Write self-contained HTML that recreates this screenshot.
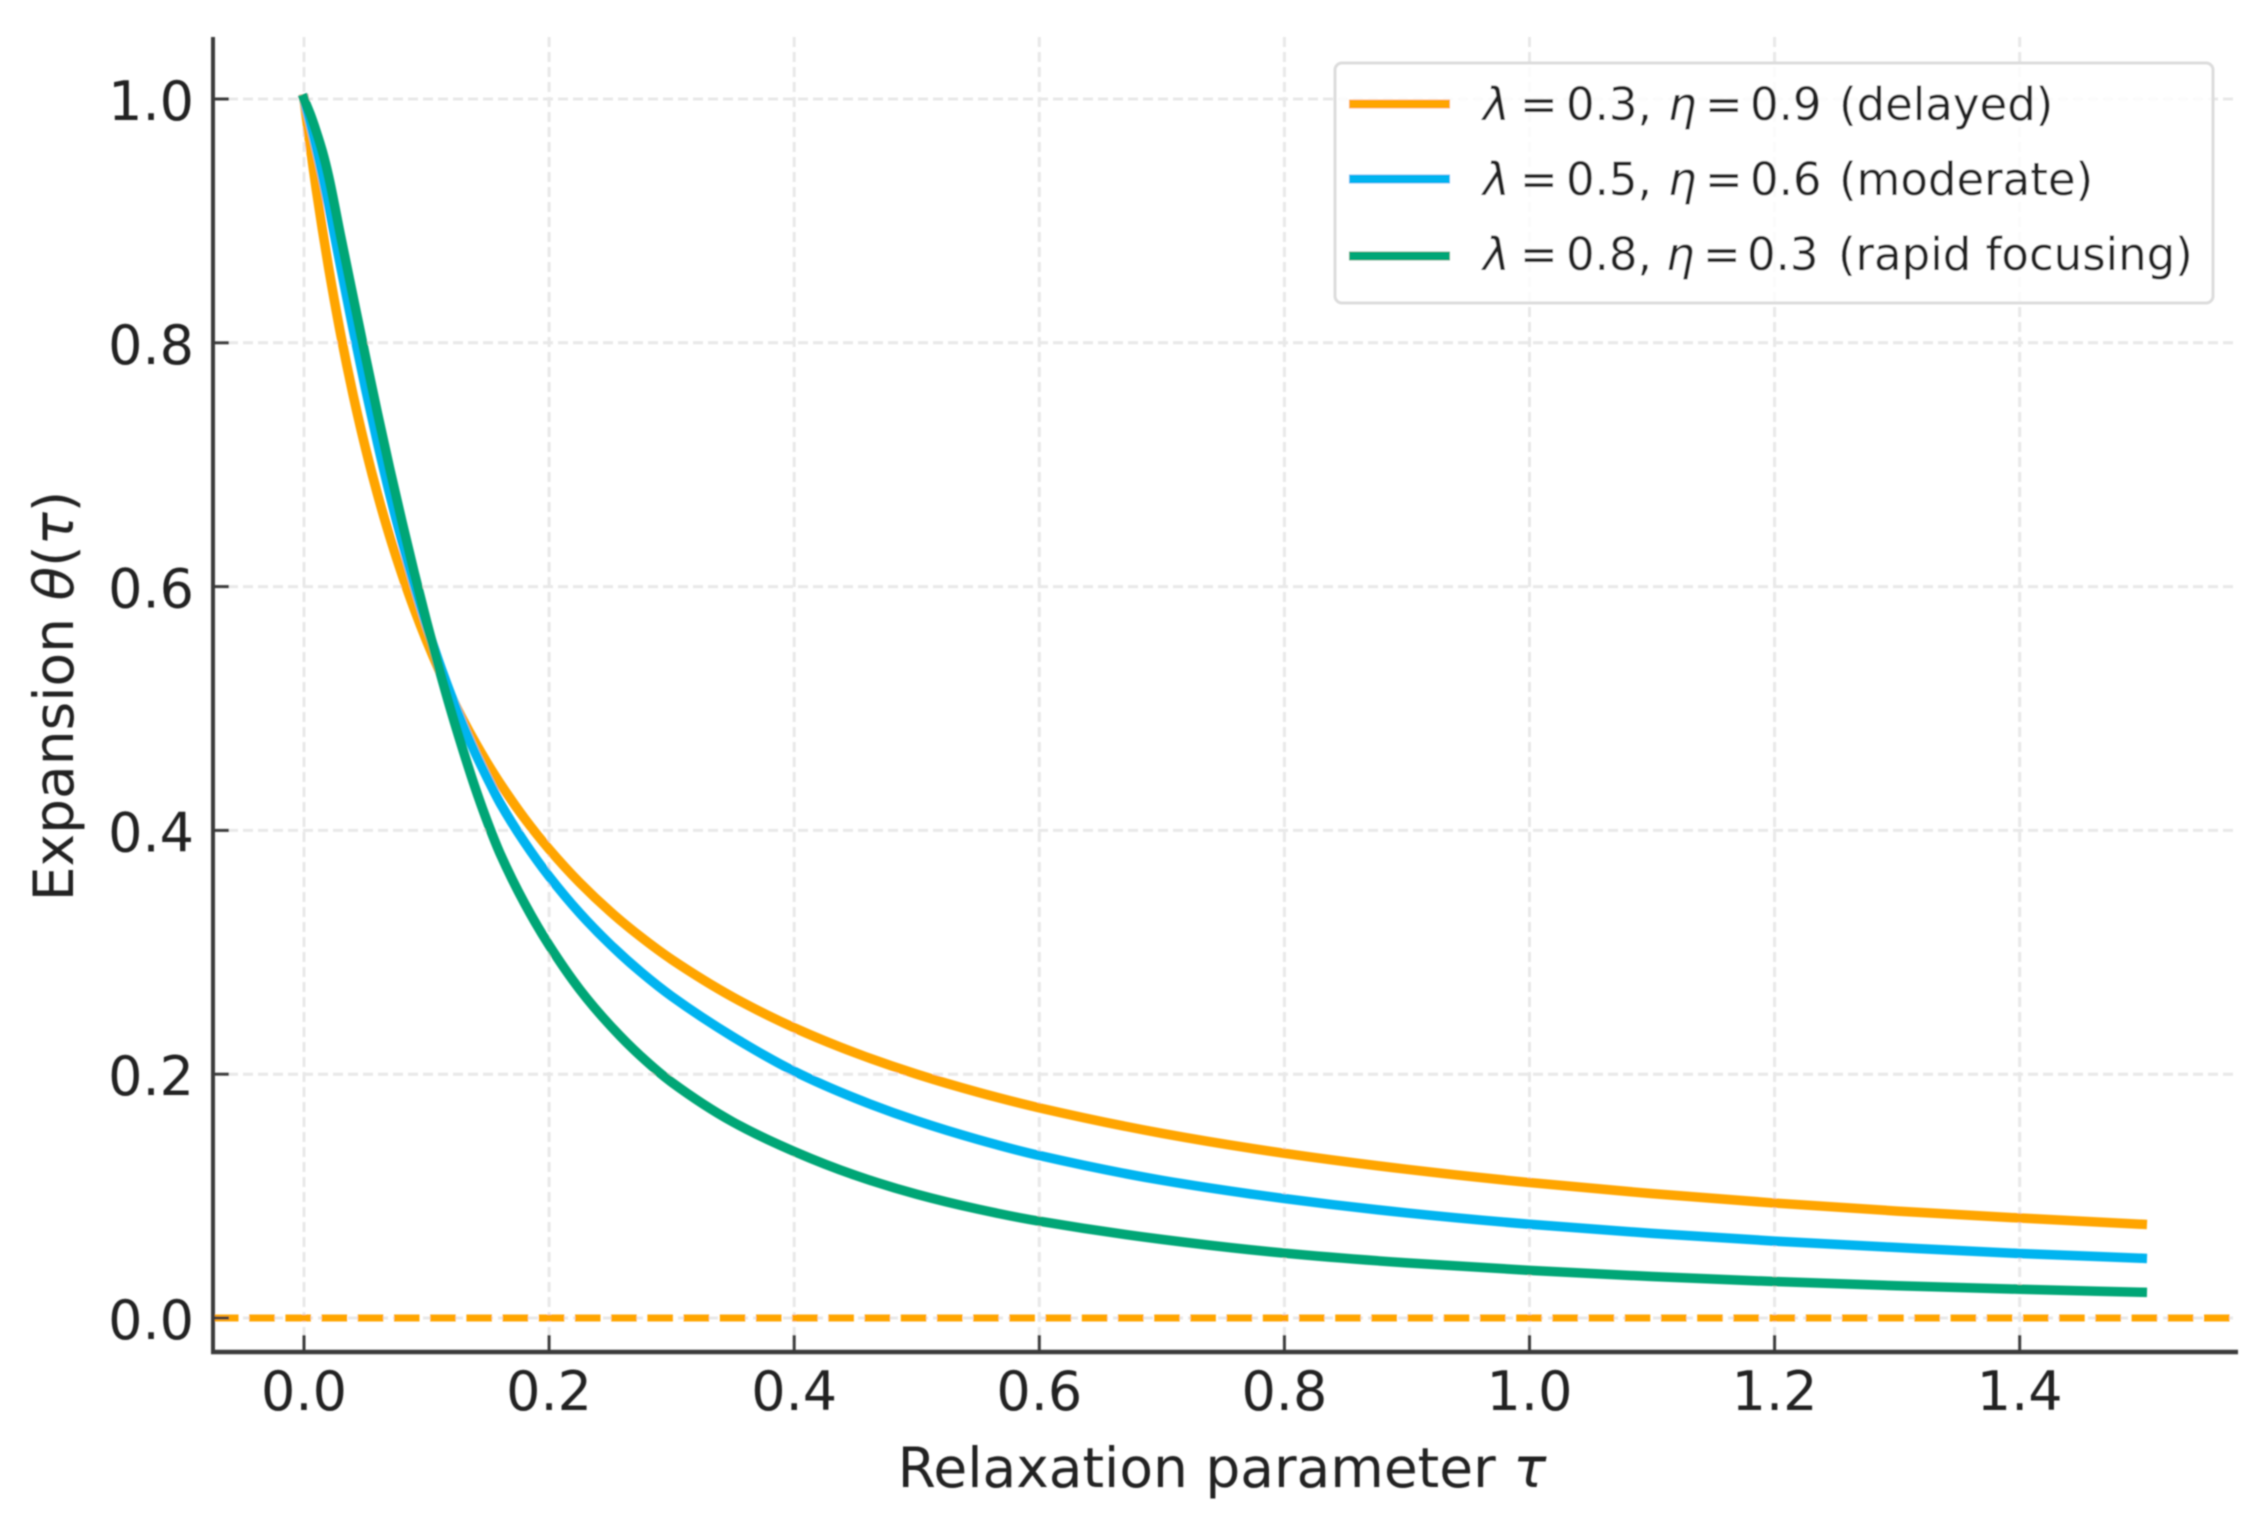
<!DOCTYPE html>
<html lang="en">
<head>
<meta charset="utf-8">
<title>Expansion vs relaxation parameter</title>
<style>
  html, body { margin: 0; padding: 0; background: #fff; }
  svg { display: block; }
  text { font-family: "DejaVu Sans", "Liberation Sans", sans-serif; fill: #222222; }
  .tick-label { font-size: 54px; }
  .axis-title { font-size: 55px; }
  .legend-label { font-size: 45px; fill: #222222; }
  .m { font-style: italic; }
</style>
</head>
<body>
<svg id="chart" xmlns="http://www.w3.org/2000/svg" width="2266" height="1516" viewBox="0 0 2266 1516">
  <defs>
    <filter id="soft" x="0" y="0" width="2266" height="1516" filterUnits="userSpaceOnUse">
      <feGaussianBlur stdDeviation="0.8"/>
    </filter>
  </defs>
  <rect x="0" y="0" width="2266" height="1516" fill="#ffffff"/>
  <g id="root" filter="url(#soft)">
    <g id="grid"></g>
    <g id="lines"></g>
    <line x1="213" y1="37" x2="213" y2="1354" stroke="#3a3a3a" stroke-width="4"/>
    <line x1="211" y1="1352" x2="2238" y2="1352" stroke="#3a3a3a" stroke-width="4.5"/>
    <g id="ticks"></g>
    <text class="axis-title" x="1222" y="1487" text-anchor="middle">Relaxation parameter <tspan class="m">τ</tspan></text>
    <text class="axis-title" transform="translate(73,696) rotate(-90)" text-anchor="middle">Expansion <tspan class="m">θ</tspan>(<tspan class="m">τ</tspan>)</text>
    <g>
      <rect x="1335" y="63" width="878" height="240" rx="7" ry="7" fill="#ffffff" fill-opacity="0.8" stroke="#dcdcdc" stroke-width="3"/>
      <line x1="1349" y1="104" x2="1450" y2="104" stroke="#ffa500" stroke-width="9"/>
      <text class="legend-label" y="120"><tspan class="m" x="1483">λ</tspan><tspan x="1520">=</tspan><tspan x="1566">0.3,</tspan><tspan class="m" x="1668">η</tspan><tspan x="1705">=</tspan><tspan x="1750">0.9</tspan><tspan x="1839">(delayed)</tspan></text>
      <line x1="1349" y1="179" x2="1450" y2="179" stroke="#00b4f0" stroke-width="9"/>
      <text class="legend-label" y="195"><tspan class="m" x="1483">λ</tspan><tspan x="1520">=</tspan><tspan x="1566">0.5,</tspan><tspan class="m" x="1668">η</tspan><tspan x="1705">=</tspan><tspan x="1750">0.6</tspan><tspan x="1839">(moderate)</tspan></text>
      <line x1="1349" y1="256" x2="1450" y2="256" stroke="#00a676" stroke-width="9"/>
      <text class="legend-label" y="270"><tspan class="m" x="1483">λ</tspan><tspan x="1520">=</tspan><tspan x="1566">0.8,</tspan><tspan class="m" x="1666">η</tspan><tspan x="1703">=</tspan><tspan x="1747">0.3</tspan><tspan x="1838">(rapid focusing)</tspan></text>
    </g>
  </g>
</svg>
<script>
const xTicks = [0.0, 0.2, 0.4, 0.6, 0.8, 1.0, 1.2, 1.4];
const yTicks = [0.0, 0.2, 0.4, 0.6, 0.8, 1.0];

const tau = [0, .005, .01, .015, .02, .03, .04, .05, .06, .07, .08, .09, .1, .11, .12, .13, .14, .15, .16, .18, .2, .225, .25, .275, .3, .35, .4, .45, .5, .55, .6, .7, .8, .9, 1, 1.1, 1.2, 1.3, 1.4, 1.5];
const delayedTheta = [1, .9615, .9259, .8929, .8621, .8065, .7576, .7143, .6757, .6410, .6098, .5814, .5556, .5319, .5102, .4902, .4717, .4545, .4386, .4098, .3846, .3571, .3333, .3125, .2941, .2632, .2381, .2174, .2, .1852, .1724, .1515, .1351, .1220, .1111, .1020, .0943, .0877, .0820, .0769];
const moderateTheta = [1, .9804, .9597, .9372, .9132, .8621, .8117, .7634, .7179, .6757, .6369, .6013, .5685, .5385, .5110, .4859, .4630, .4421, .4225, .3902, .3623, .3322, .3063, .2837, .2639, .2307, .2024, .1802, .1618, .1464, .1333, .1130, .0980, .0862, .0769, .0694, .0631, .0578, .0529, .0490];
const rapidTheta = [1, .9877, .9732, .9569, .9368, .8869, .8380, .7895, .7420, .6965, .6530, .6112, .5714, .5335, .4980, .4650, .4340, .4060, .3810, .3401, .3058, .2695, .2398, .2146, .1934, .1608, .1366, .1170, .1015, .0893, .0794, .0645, .0532, .0452, .0391, .0340, .0299, .0265, .0236, .0211];

const baselineValue = [0];

function xAxis(t) { return 304 + 1225.5 * t; }
function yAxis(v) { return 1318 - 1219 * v; }

const NS = 'http://www.w3.org/2000/svg';
function mk(tag, parent) {
  const el = document.createElementNS(NS, tag);
  parent.appendChild(el);
  return el;
}
function setStyle(el, props) {
  Object.keys(props).forEach(function (k) { el.setAttribute(k, props[k]); });
}
function smoothPath(ts, vs) {
  const px = ts.map(xAxis), py = vs.map(yAxis), n = px.length;
  const d = [], m = [];
  for (let i = 0; i < n - 1; i++) d.push((py[i + 1] - py[i]) / (px[i + 1] - px[i]));
  m.push(d[0]);
  for (let i = 1; i < n - 1; i++) {
    m.push(d[i - 1] * d[i] <= 0 ? 0 : 2 * d[i - 1] * d[i] / (d[i - 1] + d[i]));
  }
  m.push(d[n - 2]);
  let s = 'M' + px[0].toFixed(2) + ' ' + py[0].toFixed(2);
  for (let i = 0; i < n - 1; i++) {
    const h = (px[i + 1] - px[i]) / 3;
    s += 'C' + (px[i] + h).toFixed(2) + ' ' + (py[i] + m[i] * h).toFixed(2) + ' ' +
         (px[i + 1] - h).toFixed(2) + ' ' + (py[i + 1] - m[i + 1] * h).toFixed(2) + ' ' +
         px[i + 1].toFixed(2) + ' ' + py[i + 1].toFixed(2);
  }
  return s;
}

const grid = document.getElementById('grid');
const ticks = document.getElementById('ticks');
const lines = document.getElementById('lines');
const gridStyle = { stroke: '#e8e8e8', 'stroke-width': 3, 'stroke-dasharray': '10 5' };
const tickStyle = { stroke: '#3a3a3a', 'stroke-width': 3 };

xTicks.forEach(function (t) {
  const x = xAxis(t);
  const g = mk('line', grid);
  
  
  setStyle(g, gridStyle);
  g.setAttribute('x1', x); g.setAttribute('x2', x); g.setAttribute('y1', 37); g.setAttribute('y2', 1352);

  const tk = mk('line', ticks);
  
  
  setStyle(tk, tickStyle);
  tk.setAttribute('x1', x); tk.setAttribute('x2', x); tk.setAttribute('y1', 1352); tk.setAttribute('y2', 1335);

  const lb = mk('text', ticks);
  
  
  lb.setAttribute('class', 'tick-label');
  lb.setAttribute('x', x); lb.setAttribute('y', 1410);
  lb.setAttribute('text-anchor', 'middle');
  lb.textContent = t.toFixed(1);
});

yTicks.forEach(function (v) {
  const y = yAxis(v);
  const g = mk('line', grid);
  
  
  setStyle(g, gridStyle);
  g.setAttribute('x1', 213); g.setAttribute('x2', 2238); g.setAttribute('y1', y); g.setAttribute('y2', y);

  const tk = mk('line', ticks);
  
  
  setStyle(tk, tickStyle);
  tk.setAttribute('x1', 213); tk.setAttribute('x2', 229); tk.setAttribute('y1', y); tk.setAttribute('y2', y);

  const lb = mk('text', ticks);
  
  
  lb.setAttribute('class', 'tick-label');
  lb.setAttribute('x', 194); lb.setAttribute('y', y + 21);
  lb.setAttribute('text-anchor', 'end');
  lb.textContent = v.toFixed(1);
});

const base = mk('line', lines);


base.setAttribute('x1', 213); base.setAttribute('x2', 2235);
base.setAttribute('y1', yAxis(baselineValue[0])); base.setAttribute('y2', yAxis(baselineValue[0]));
base.setAttribute('stroke', '#ffa500'); base.setAttribute('stroke-width', 7);
base.setAttribute('stroke-dasharray', '25.5 10.7');

const p1 = mk('path', lines);


setStyle(p1, { fill: 'none', stroke: '#ffa500', 'stroke-width': 9.5, 'stroke-linecap': 'square', 'stroke-linejoin': 'round' });
p1.setAttribute('d', smoothPath(tau, delayedTheta));

const p2 = mk('path', lines);


setStyle(p2, { fill: 'none', stroke: '#00b4f0', 'stroke-width': 9.5, 'stroke-linecap': 'square', 'stroke-linejoin': 'round' });
p2.setAttribute('d', smoothPath(tau, moderateTheta));

const p3 = mk('path', lines);


setStyle(p3, { fill: 'none', stroke: '#00a676', 'stroke-width': 9.5, 'stroke-linecap': 'square', 'stroke-linejoin': 'round' });
p3.setAttribute('d', smoothPath(tau, rapidTheta));
</script>
</body>
</html>
